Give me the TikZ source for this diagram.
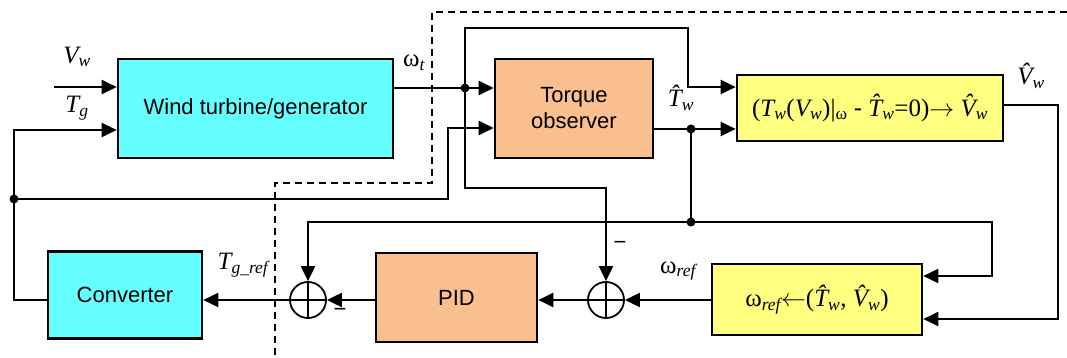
\documentclass[tikz,border=0pt]{standalone}
\usepackage{fontspec}
\setmainfont{Liberation Sans}
\newfontfamily\tmsf{Liberation Serif}
\usetikzlibrary{arrows.meta}
\definecolor{cyanbox}{HTML}{66FFFF}
\definecolor{peach}{HTML}{F9BF8F}
\definecolor{lemon}{HTML}{FFFF80}
\newcommand{\vi}[1]{{\tmsf\itshape #1}}
\newcommand{\vsub}[2]{{\tmsf\itshape #1\textsubscript{#2}}}
\begin{document}
\begin{tikzpicture}[x=1pt,y=-1pt,
  box/.style={draw,line width=2.6pt,inner sep=0pt,align=center,font=\fontsize{22}{26}\selectfont},
  sumnode/.style={circle,draw,line width=1.8pt,minimum size=36pt,inner sep=0pt,
    path picture={\draw[line width=1.8pt] (path picture bounding box.north) -- (path picture bounding box.south)
      (path picture bounding box.west) -- (path picture bounding box.east);}},
  wire/.style={line width=2pt},
  arr/.style={wire,-{Triangle[length=15pt,width=14pt]}},
  lbl/.style={inner sep=0pt,font=\tmsf\fontsize{25}{28}\selectfont},
  dot/.style={circle,fill,inner sep=0pt,minimum size=9pt}]
\useasboundingbox (0,0) rectangle (1067,358);
% blocks
\node[box,fill=cyanbox,minimum width=275pt,minimum height=99pt] (wtg) at (255.5,108.5) {Wind turbine/generator};
\node[box,fill=peach,minimum width=158pt,minimum height=99pt] (tobs) at (574,108.5) {Torque\\observer};
\node[box,fill=lemon,minimum width=266pt,minimum height=66pt,font=\tmsf\fontsize{25}{29}\selectfont] (vest) at (870,108)
  {(\vsub{T}{w}(\vsub{V}{w})|\textsubscript{ω} {\rmfamily -} \vsub{\^{T}}{w}=0)$\rightarrow$ \vsub{\^{V}}{w}};
\node[box,fill=cyanbox,minimum width=154pt,minimum height=87pt] (conv) at (125,295) {Converter};
\node[box,fill=peach,minimum width=161pt,minimum height=89pt] (pid) at (456.5,297.5) {PID};
\node[box,fill=lemon,minimum width=210pt,minimum height=71pt,font=\tmsf\fontsize{25}{28}\selectfont] (wref) at (817,299.5)
  {ω\textsubscript{\vi{ref}}$\leftarrow$(\vsub{\^{T}}{w}, \vsub{\^{V}}{w})};
\node[sumnode] (s1) at (308,300) {};
\node[sumnode] (s2) at (606,300) {};
% junctions
\node[dot] (j1) at (14,199) {};
\node[dot] (j2) at (465,88) {};
\node[dot] (j3) at (691,129) {};
\node[dot] (j4) at (691,222) {};
\coordinate (vwin) at (54,87);
% signals
\draw[arr] (vwin) -- (wtg.west |- vwin);
\draw[arr] (conv.west |- s1) -| (j1.center) |- (wtg.west |- 0,130);
\draw[arr] (j1.center) -| (448,128) -- (tobs.west |- 0,128);
\draw[arr] (wtg.east |- j2) -- (tobs.west |- j2);
\draw[arr] (j2.center) |- (688,28) |- (vest.west |- 0,87);
\draw[arr] (j2.center) |- (s2.north |- 0,188) -- (s2.north);
\draw[arr] (tobs.east |- j3) -- (vest.west |- j3);
\draw[wire] (j3.center) -- (j4.center);
\draw[arr] (j4.center) -| (s1.north);
\draw[arr] (j4.center) -| (992,276) -- (wref.east |- 0,276);
\draw[arr] (vest.east |- 0,105) -| (1058,319) -- (wref.east |- 0,319);
\draw[arr] (wref.west |- s2) -- (s2.east);
\draw[arr] (s2.west) -- (pid.east |- s2);
\draw[arr] (pid.west |- s1) -- (s1.east);
\draw[arr] (s1.west) -- (conv.east |- s1);
% boundary
\draw[line width=1.5pt,dash pattern=on 7pt off 5pt] (1067,12) -| (432,183) -| (275,358);
% labels
\node[lbl] (vwlab) at (77,57) {\vsub{V}{w}};
\node[lbl] (tglab) at (77,108) {\vsub{T}{g}};
\node[lbl] (wtlab) at (414,63) {ω\textsubscript{\vi{t}}};
\node[lbl] (twlab) at (681,98) {\vsub{\^{T}}{w}};
\node[lbl] (vwhlab) at (1031,76) {\vsub{\^{V}}{w}};
\node[lbl] (tgrlab) at (243,265) {\vsub{T}{g\_ref}};
\node[lbl] (wrlab) at (678,271) {ω\textsubscript{\vi{ref}}};
\node[font=\fontsize{22}{26}\selectfont,inner sep=0pt] (m1) at (340,312) {−};
\node[font=\fontsize{22}{26}\selectfont,inner sep=0pt] (m2) at (620,245) {−};
\end{tikzpicture}
\end{document}
